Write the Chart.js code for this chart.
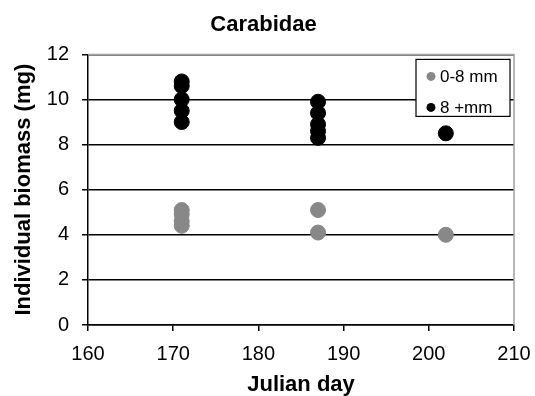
<!DOCTYPE html>
<html>
<head>
<meta charset="utf-8">
<script src="https://cdn.jsdelivr.net/npm/chart.js@4"></script>
<style>
  html, body { margin: 0; padding: 0; background: #fff; }
  #wrap { width: 535px; height: 396px; }
</style>
</head>
<body>
<div id="wrap"><canvas id="chart" width="535" height="396"></canvas></div>
<script>
const smallDays = [171, 171, 171, 171, 187, 187, 202];
const smallBiomass = [5.1, 4.9, 4.6, 4.4, 5.1, 4.1, 4.0];
const largeDays = [171, 171, 171, 171, 171, 187, 187, 187, 187, 187, 202];
const largeBiomass = [10.8, 10.6, 10.0, 9.5, 9.0, 9.9, 9.4, 8.9, 8.6, 8.3, 8.5];
const seriesLabels = ["0-8 mm", "8 +mm"];
const xTicks = [160, 170, 180, 190, 200, 210];
const yTicks = [0, 2, 4, 6, 8, 10, 12];

const toPoints = (xs, ys) => xs.map((x, i) => ({ x: x, y: ys[i] }));
const font = "'Liberation Sans', Arial, sans-serif";

// legend box inside the plot, plus grey frame on top/right of the plot area
const frameAndLegend = {
  id: "frameAndLegend",
  afterDraw(chart) {
    const { ctx, chartArea: a } = chart;
    ctx.save();
    ctx.strokeStyle = "#a0a0a0";
    ctx.lineWidth = 1.5;
    ctx.beginPath();
    ctx.moveTo(a.left, a.top);
    ctx.lineTo(a.right, a.top);
    ctx.lineTo(a.right, a.bottom);
    ctx.stroke();

    const bx = a.right - 98, by = a.top + 5, bw = 94, bh = 57;
    ctx.fillStyle = "#fff";
    ctx.fillRect(bx, by, bw, bh);
    ctx.strokeStyle = "#000";
    ctx.lineWidth = 1.2;
    ctx.strokeRect(bx, by, bw, bh);
    ctx.font = "17px " + font;
    ctx.textBaseline = "middle";
    chart.data.datasets.forEach((ds, i) => {
      const cy = by + 17 + i * 31;
      ctx.fillStyle = ds.backgroundColor;
      ctx.beginPath();
      ctx.arc(bx + 15, cy, 4.5, 0, Math.PI * 2);
      ctx.fill();
      ctx.fillStyle = "#000";
      ctx.fillText(ds.label, bx + 24, cy + 1);
    });
    ctx.restore();
  }
};

new Chart(document.getElementById("chart"), {
  type: "scatter",
  data: {
    datasets: [
      {
        label: seriesLabels[0],
        data: toPoints(smallDays, smallBiomass),
        backgroundColor: "#888888",
        borderColor: "#888888",
        pointRadius: 7.5,
        pointHoverRadius: 7.5
      },
      {
        label: seriesLabels[1],
        data: toPoints(largeDays, largeBiomass),
        backgroundColor: "#000000",
        borderColor: "#000000",
        pointRadius: 7.5,
        pointHoverRadius: 7.5
      }
    ]
  },
  options: {
    responsive: false,
    animation: false,
    layout: { padding: { left: 13, right: 21, top: 0, bottom: 0 } },
    plugins: {
      legend: { display: false },
      tooltip: { enabled: false },
      title: {
        display: true,
        text: "Carabidae",
        color: "#000",
        font: { family: font, size: 22, weight: "bold", lineHeight: 1.2 },
        padding: { top: 12, bottom: 16 }
      }
    },
    scales: {
      x: {
        type: "linear",
        min: xTicks[0],
        max: xTicks[xTicks.length - 1],
        afterBuildTicks: axis => { axis.ticks = xTicks.map(v => ({ value: v })); },
        ticks: { color: "#000", font: { family: font, size: 20 }, padding: 11 },
        grid: { drawOnChartArea: false, color: "#000", lineWidth: 1.5, tickLength: 6 },
        border: { color: "#000", width: 1.5 },
        title: {
          display: true,
          text: "Julian day",
          color: "#000",
          font: { family: font, size: 22, weight: "bold", lineHeight: 1 },
          padding: { top: 1, bottom: 0 }
        },
        afterFit: axis => {
          axis.height = 71;
          axis.paddingLeft = 0;
          axis.paddingRight = 0;
        }
      },
      y: {
        min: yTicks[0],
        max: yTicks[yTicks.length - 1],
        afterBuildTicks: axis => { axis.ticks = yTicks.map(v => ({ value: v })); },
        ticks: { color: "#000", font: { family: font, size: 20 }, padding: 13 },
        grid: { color: "#000", lineWidth: 1.5, tickLength: 6 },
        border: { color: "#000", width: 1.5 },
        title: {
          display: true,
          text: "Individual biomass (mg)",
          color: "#000",
          font: { family: font, size: 22, weight: "bold", lineHeight: 1 },
          padding: { top: 0, bottom: 0 }
        },
        afterFit: axis => { axis.width = 75; }
      }
    }
  },
  plugins: [frameAndLegend]
});
</script>
</body>
</html>
